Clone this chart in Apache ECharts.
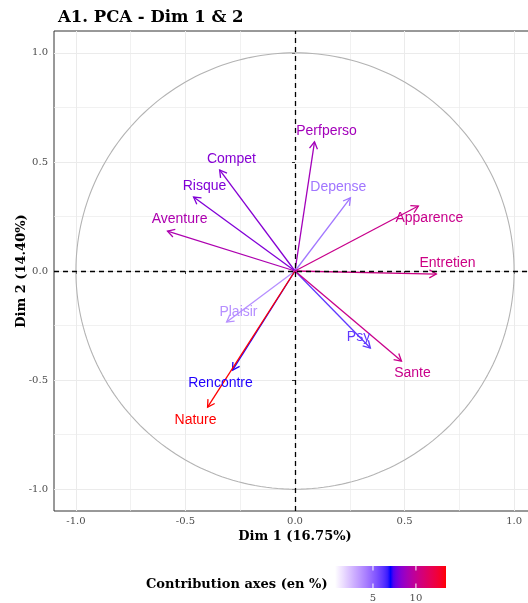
<!DOCTYPE html>
<html><head><meta charset="utf-8">
<script src="https://cdn.jsdelivr.net/npm/echarts@6/dist/echarts.min.js"></script>
<style>html,body{margin:0;padding:0;background:#fff}#c{width:528px;height:603px}</style>
</head><body><div id="c"></div>
<script>
// ---- data ----
const variables = ['Perfperso','Compet','Risque','Aventure','Depense','Apparence','Entretien','Plaisir','Rencontre','Nature','Psy','Sante'];
const dim1 = [0.089,-0.344,-0.463,-0.582,0.253,0.563,0.645,-0.312,-0.285,-0.399,0.344,0.486];
const dim2 = [0.592,0.463,0.339,0.183,0.335,0.298,-0.014,-0.234,-0.454,-0.624,-0.353,-0.413];
const contrib = [8.9,8.2,8.1,9.2,4.4,10.2,10.4,3.7,7.1,13.5,6.1,10.2];
// repelled label anchors (data units)
const labelDim1 = [0.144,-0.290,-0.413,-0.527,0.198,0.613,0.696,-0.258,-0.340,-0.454,0.290,0.536];
const labelDim2 = [0.642,0.514,0.390,0.239,0.385,0.243,0.037,-0.188,-0.514,-0.683,-0.303,-0.468];
const contribMin = 0.58, contribMax = 13.5;
const contribTicks = [5, 10];
const axisTicks = [-1, -0.5, 0, 0.5, 1];
const gradientCols = ['#FFFFFF', '#0000FF', '#FF0000'];

// ---- Lab colour interpolation (like ggplot's gradientn) ----
function hex2rgb(h){return [parseInt(h.slice(1,3),16),parseInt(h.slice(3,5),16),parseInt(h.slice(5,7),16)];}
function lin(c){c/=255;return c<=0.04045?c/12.92:Math.pow((c+0.055)/1.055,2.4);}
function unlin(c){c=c<=0.0031308?12.92*c:1.055*Math.pow(c,1/2.4)-0.055;return Math.max(0,Math.min(255,Math.round(c*255)));}
const WX=0.95047,WY=1,WZ=1.08883;
function f(t){return t>0.008856?Math.cbrt(t):7.787*t+16/116;}
function finv(t){return t*t*t>0.008856?t*t*t:(t-16/116)/7.787;}
function rgb2lab(rgb){const r=lin(rgb[0]),g=lin(rgb[1]),b=lin(rgb[2]);
  const X=(r*0.4124+g*0.3576+b*0.1805)/WX,Y=(r*0.2126+g*0.7152+b*0.0722)/WY,Z=(r*0.0193+g*0.1192+b*0.9505)/WZ;
  const fx=f(X),fy=f(Y),fz=f(Z);return [116*fy-16,500*(fx-fy),200*(fy-fz)];}
function lab2rgb(lab){const fy=(lab[0]+16)/116,fx=fy+lab[1]/500,fz=fy-lab[2]/200;
  const X=finv(fx)*WX,Y=finv(fy)*WY,Z=finv(fz)*WZ;
  const r=X*3.2406+Y*-1.5372+Z*-0.4986,g=X*-0.9689+Y*1.8758+Z*0.0415,b=X*0.0557+Y*-0.2040+Z*1.0570;
  return 'rgb('+unlin(r)+','+unlin(g)+','+unlin(b)+')';}
const labs = gradientCols.map(c=>rgb2lab(hex2rgb(c)));
function colorAt(t){t=Math.max(0,Math.min(1,t));const seg=t<0.5?0:1;const u=(t-seg*0.5)/0.5;
  const a=labs[seg],b=labs[seg+1];return lab2rgb([a[0]+(b[0]-a[0])*u,a[1]+(b[1]-a[1])*u,a[2]+(b[2]-a[2])*u]);}
function colorOf(v){return colorAt((v-contribMin)/(contribMax-contribMin));}
const colors = contrib.map(colorOf);

// ---- circle ----
const circle=[];for(let k=0;k<=240;k++){const a=k/240*2*Math.PI;circle.push([Math.cos(a),Math.sin(a)]);}

const chart = echarts.init(document.getElementById('c'), null, {renderer:'canvas'});
const serif = 'DejaVu Serif';
const arrowData = variables.map((v,i)=>[dim1[i],dim2[i],labelDim1[i],labelDim2[i],contrib[i]]);

// legend geometry
const barX=335, barY=566, barW=111, barH=22;
const stops=[];for(let k=0;k<=40;k++){stops.push({offset:k/40,color:colorAt(k/40)});}
const legendEls=[
  {type:'text',left:146,top:578,style:{text:'Contribution axes (en %)',font:'bold 13px "'+serif+'"',fill:'#000'}},
  {type:'rect',shape:{x:barX,y:barY,width:barW,height:barH},style:{fill:new echarts.graphic.LinearGradient(0,0,1,0,stops)}}
];
contribTicks.forEach(t=>{const x=barX+(t-contribMin)/(contribMax-contribMin)*barW;
  legendEls.push({type:'line',shape:{x1:x,y1:barY,x2:x,y2:barY+4.5},style:{stroke:'#fff',lineWidth:1}});
  legendEls.push({type:'line',shape:{x1:x,y1:barY+barH-4.5,x2:x,y2:barY+barH},style:{stroke:'#fff',lineWidth:1}});
  legendEls.push({type:'text',x:x,y:barY+barH+5,style:{text:String(t),font:'10px "'+serif+'"',fill:'#4D4D4D',align:'center',verticalAlign:'top'}});
});

function axisCommon(name){return {
  type:'value',min:-1.1,max:1.1,splitNumber:5,
  axisLine:{show:false},
  axisTick:{show:true,length:3,customValues:axisTicks,lineStyle:{color:'#333',width:1}},
  axisLabel:{customValues:axisTicks,fontFamily:serif,fontSize:10,color:'#4D4D4D',formatter:v=>v.toFixed(1)},
  splitLine:{show:true,lineStyle:{color:'#EBEBEB',width:1}},
  minorTick:{show:false,splitNumber:2},
  minorSplitLine:{show:true,lineStyle:{color:'#EBEBEB',width:0.7}},
  name:name,nameLocation:'middle',nameMoveOverlap:false,
  nameTextStyle:{fontFamily:serif,fontWeight:'bold',fontSize:13,color:'#000'}
};}

const xA=axisCommon('Dim 1 (16.75%)');xA.nameGap=19;xA.axisLabel.margin=5;
const yA=axisCommon('Dim 2 (14.40%)');yA.nameGap=26;yA.axisLabel.margin=6;

chart.setOption({
  animation:false,
  backgroundColor:'#fff',
  title:{text:'A1. PCA - Dim 1 & 2',left:53,top:4,textStyle:{fontFamily:serif,fontWeight:'bold',fontSize:16.5,color:'#000'}},
  grid:{left:54,top:31,width:482,height:480,show:true,borderColor:'#333',borderWidth:1,backgroundColor:'transparent',outerBoundsMode:'none',containLabel:false},
  xAxis:xA,yAxis:yA,
  graphic:legendEls,
  series:[
    {type:'line',data:circle,showSymbol:false,silent:true,lineStyle:{color:'#B3B3B3',width:1.1},z:1},
    {type:'custom',z:2,silent:true,data:arrowData,renderItem:function(params,api){
      const i=params.dataIndex;const o=api.coord([0,0]);const p=api.coord([api.value(0),api.value(1)]);
      const col=colors[i];const ang=Math.atan2(p[1]-o[1],p[0]-o[0]);const L=8,a=Math.PI/6;
      const h1=[p[0]-L*Math.cos(ang-a),p[1]-L*Math.sin(ang-a)];const h2=[p[0]-L*Math.cos(ang+a),p[1]-L*Math.sin(ang+a)];
      return {type:'group',children:[
        {type:'line',shape:{x1:o[0],y1:o[1],x2:p[0],y2:p[1]},style:{stroke:col,lineWidth:1.3}},
        {type:'polyline',shape:{points:[h1,p,h2]},style:{stroke:col,lineWidth:1.3,fill:null}}
      ]};}},
    {type:'line',data:[],z:3,silent:true,markLine:{silent:true,symbol:'none',label:{show:false},
      lineStyle:{color:'#000',type:[5,4],width:1.3},data:[{xAxis:0},{yAxis:0}]}},
    {type:'custom',z:4,silent:true,data:arrowData,renderItem:function(params,api){
      const i=params.dataIndex;const lp=api.coord([api.value(2),api.value(3)]);
      return {type:'text',x:lp[0],y:lp[1],style:{text:variables[i],fill:colors[i],font:'14px "Liberation Sans"',align:'center',verticalAlign:'middle'}};}}
  ]
});
</script></body></html>
